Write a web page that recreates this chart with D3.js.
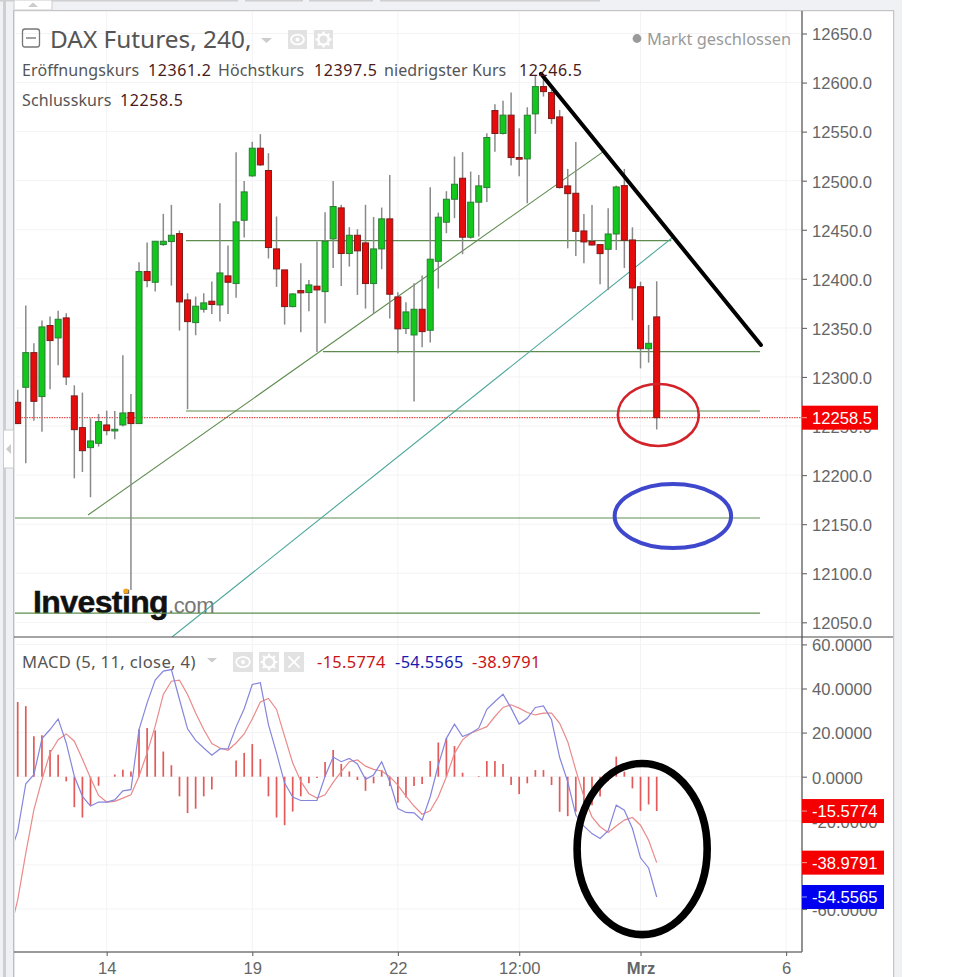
<!DOCTYPE html>
<html lang="de">
<head>
<meta charset="utf-8">
<title>DAX Futures, 240</title>
<script src="https://cdn.jsdelivr.net/npm/d3@7/dist/d3.min.js"></script>
<style>
html,body{margin:0;padding:0;background:#fff;}
svg{display:block;}
</style>
</head>
<body>
<div id="chart"></div>
<script>
const candleOpen=[12274.2,12289.5,12324.8,12280,12352.4,12339.8,12360.2,12280.7,12248.4,12228,12232.4,12251.1,12245,12251.1,12263.7,12252.5,12407.4,12396.5,12434.9,12438,12446.1,12378.5,12355.4,12369,12377.2,12373.4,12403,12395.2,12459.7,12504.9,12533.1,12510.4,12430.5,12409.1,12371.7,12388,12386,12392.5,12387,12440.7,12472.3,12425.8,12444.4,12436.6,12395.2,12430.5,12461.1,12381.6,12349.3,12342.8,12369,12347.6,12417.9,12457.7,12481.1,12502.5,12442.4,12478.1,12493,12571.5,12548.1,12566.8,12523.6,12522.2,12568.1,12595.9,12589.8,12565,12494.7,12487.2,12448.8,12438.2,12434.9,12430.1,12445.7,12495,12439.6,12392,12328.8,12361.2];
const candleHigh=[12287,12372.7,12334.4,12357.5,12361.5,12367.6,12364.9,12291.5,12284.1,12257.9,12262.3,12265.7,12265.4,12322.1,12282.7,12416.9,12437,12438.3,12466.2,12475.4,12449.2,12385.3,12381.9,12385.3,12397.2,12477.1,12433.9,12529.1,12499.8,12539.6,12547.4,12528,12463.5,12409.1,12385.3,12415.9,12398.9,12438,12467.9,12499.8,12475.4,12452.6,12450.6,12475.4,12463.1,12472.6,12505.9,12386.3,12376.1,12395.5,12403.3,12493.4,12467.5,12489.3,12524.6,12529.1,12509.3,12505.9,12548.4,12578,12581.4,12590,12553.5,12574.8,12607.8,12607.8,12592.5,12572.1,12512,12539.5,12466.1,12475.3,12434.9,12471.9,12495,12512,12452.5,12397.1,12353,12397.5];
const candleLow=[12252,12212,12255.5,12244.3,12287.4,12311.9,12291.9,12196.7,12203.2,12177.4,12229,12240.6,12236.5,12249.4,12083,12252,12391.4,12387,12433.6,12393.1,12347.3,12267.1,12342.5,12365.6,12364.2,12356.4,12364.2,12380.6,12442.1,12504,12515,12420.7,12391.8,12353.4,12371,12345.6,12367,12325.5,12354.7,12411.1,12392.8,12412.5,12383.6,12369.7,12364.2,12409.8,12359.5,12324.2,12343.9,12274.9,12330.3,12335,12390.1,12446.5,12461.8,12425.1,12441,12443.1,12478.4,12529.4,12547,12515.5,12504.6,12477,12547.7,12585.7,12557.9,12492,12431.1,12423.3,12415.8,12434,12394.4,12388.6,12429.4,12411.1,12357.7,12308.8,12314.6,12246.5];
const candleClose=[12252.5,12324.8,12275.2,12351,12337.1,12358.8,12300,12246.3,12224.9,12234.8,12254.5,12245.3,12246.7,12263.3,12252.5,12407.4,12398.2,12438.3,12438.3,12444.4,12376.5,12356.4,12372.1,12375.5,12373.8,12406,12396.5,12458,12488.6,12533.1,12516.1,12431.9,12410.1,12371.7,12384.6,12385.7,12393.8,12388.7,12438.3,12473.7,12425.8,12444.4,12428.5,12395.2,12430.5,12461.1,12384.3,12349,12366.3,12369,12346.2,12420,12462.8,12481.1,12496.4,12442.4,12478.1,12494.7,12544,12548.1,12566.8,12523.6,12521.9,12566.7,12595.9,12590.8,12563.3,12493,12486.8,12448.4,12437.6,12434.5,12425.7,12445.7,12493.6,12439.3,12390.7,12328.8,12334.3,12258.5];

// MACD lines start one bar before the first visible candle (index -1)
const macdLine=[-35.5,-24.8,-3.2,0.9,17.3,21.4,26.2,15.3,0.2,-8.9,-13.3,-11.5,-11.5,-10.5,-6.4,-5.9,21.4,33.5,43.8,47.9,48.6,35,21.7,16.5,13,9.7,12.6,12.7,22.6,30.8,41.8,42.6,23.6,10.8,-2.9,-9.2,-10.8,-10.8,-10.8,0.2,8.9,6.8,8.3,5.8,-1.2,0.8,6.8,-2.3,-14.4,-16.2,-16.4,-19.7,-9.1,5.3,17.4,23.8,18.2,19.7,22,30.6,34.1,37.4,31.1,23.9,26.5,31.4,32.1,25.8,8.8,-2.3,-17.4,-22.4,-25.8,-28,-24.5,-12.9,-15.2,-23.5,-36.8,-41.4,-54.5565];
const signalLine=[-71,-55.9,-34.7,-15,-1.4,10.8,16.8,19.4,16.1,8,-0.6,-8.5,-11.5,-11.2,-9.7,-8.2,0.2,10.8,22.9,37.3,43.3,43.8,37.3,28.9,21.4,15,13,12,15.3,19.4,26.2,33.9,35.5,30.5,18.3,6.2,-2.1,-7.7,-9.7,-8.2,-2.6,2.3,6.8,7.6,4.8,3.3,2.6,0,-3.8,-8.8,-13.3,-17,-15.5,-9.1,0,10.6,16.7,19.7,21.2,22.7,27.3,31.4,32.6,31.1,29.1,28,28.8,28.8,24.2,15.9,3,-9.1,-18.2,-22.7,-25.3,-22.4,-19.7,-18.5,-22,-28.8,-38.9791];
const histogram=[33.9,32,18.3,18.8,12.1,10,-2.1,-13.8,-18.5,-13,-4.1,0,1,3.2,2.4,21.4,22.1,21,11.4,5.2,-8.9,-16.5,-14.5,-8.9,-5.8,0,0,7.3,10.8,14.8,8,-8.9,-18.5,-22,-15.8,-8.9,-3,-0.6,6.7,12.1,5.8,2.4,-1.5,-6.4,-3,3,-4.2,-11.8,-9.4,-4.2,-3.3,7.1,15.5,17.4,13.9,1.8,0,0.3,7.1,7.1,5.8,-3.8,-7.9,-3,3,3,-3.8,-15.9,-17.9,-15.9,-14.4,-13,-9,-2,9.1,2.3,-5.3,-15.5,-12.6,-15.5774];

const priceTicks=[12050,12100,12150,12200,12250,12300,12350,12400,12450,12500,12550,12600,12650];
const macdTicks=[-60,-40,-20,0,20,40,60];
const timeTickIndex=[11,29,47,62,77,95];
const timeTickLabels=["14","19","22","12:00","Mrz","6"];

// drawn trend lines: [bar index, price, bar index, price]
const greenTrends=[[8.69,12159.3,72.36,12529.4],[20.8,12438.9,80.8,12438.9],[37.74,12325.8,91.77,12325.8],[20.8,12265.3,91.77,12265.3],[-0.4,12156.3,91.77,12156.3],[-0.4,12059.4,91.77,12059.4]];
const tealTrends=[[19.08,12035,80.9,12441.7]];
const blackTrend=[64.69,12608.9,91.89,12332.6];
// hand-drawn ellipses: [bar index, value, radius in bars, radius in value]
const redEllipse=[79.2,12261.3,5,31.6];
const blueEllipse=[81,12158.3,7.2,32.6];
const blackEllipse=[77.2,-32.8,8.04,38.8];

const legendRow1=[["Eröffnungskurs","12361.2"],["Höchstkurs","12397.5"],["niedrigster Kurs","12246.5"]];
const legendRow2=[["Schlusskurs","12258.5"]];
const macdValues=["-15.5774","-54.5565","-38.9791"];
const lastPrice=12258.5;
const macdTags=[[-15.5774,"#f40000"],[-38.9791,"#f40000"],[-54.5565,"#0000f0"]];

const W=962,H=977;
const plotL=14,plotR=802,frameR=893;
const topT=11,topB=637,botB=952;
const sans='"Liberation Sans",Arial,sans-serif';
const ui='"Noto Sans",sans-serif';

const svg=d3.select("#chart").append("svg").attr("width",W).attr("height",H).attr("viewBox",`0 0 ${W} ${H}`);
const x=d3.scaleLinear().domain([0,79]).range([17.7,656.7]);
const y=d3.scaleLinear().domain([12050,12650]).range([622.3,33.5]);
const ym=d3.scaleLinear().domain([-60,60]).range([909,644.4]);

// chrome
svg.append("rect").attr("width",902).attr("height",H).attr("fill","#f0f1f5");
svg.append("rect").attr("x",3).attr("y",0).attr("width",3).attr("height",H).attr("fill","#cfcfd2");
svg.append("rect").attr("x",plotL).attr("y",topT).attr("width",frameR-plotL).attr("height",H-topT).attr("fill","#fff");
svg.append("rect").attr("x",13).attr("y",10).attr("width",1.4).attr("height",H-10).attr("fill","#bdbdbd");
svg.append("rect").attr("x",13).attr("y",10).attr("width",frameR-13).attr("height",1.2).attr("fill","#c4c4c4");
svg.append("rect").attr("x",frameR).attr("y",10).attr("width",1.2).attr("height",H-10).attr("fill","#c4c4c4");
[[0,238],[245,303],[309,373],[380,600]].forEach(s=>svg.append("rect").attr("x",s[0]).attr("y",0).attr("width",s[1]-s[0]).attr("height",1.5).attr("fill","#cfcfd2"));
svg.append("rect").attr("x",14).attr("y",0).attr("width",38).attr("height",10).attr("fill","#fff").attr("stroke","#ccc");
svg.append("path").attr("d","M28 7 L33 2.5 L38 7 Z").attr("fill","#ccc");
svg.append("rect").attr("x",3.5).attr("y",430).attr("width",10).attr("height",38).attr("fill","#fff").attr("stroke","#ccc");
svg.append("path").attr("d","M6 449 L11 444 L11 454 Z").attr("fill","#ccc");

const defs=svg.append("defs");
defs.append("clipPath").attr("id","clipTop").append("rect").attr("x",plotL+1).attr("y",topT).attr("width",plotR-plotL+1).attr("height",topB-topT);
defs.append("clipPath").attr("id","clipBot").append("rect").attr("x",plotL+1).attr("y",topB).attr("width",plotR-plotL+1).attr("height",botB-topB);

// grid
const grid=svg.append("g").attr("stroke","#f3f3f5").attr("stroke-width",1);
grid.selectAll("line.v").data(timeTickIndex).join("line").attr("class","v")
  .attr("x1",d=>x(d)).attr("x2",d=>x(d)).attr("y1",topT).attr("y2",botB);
grid.selectAll("line.p").data(priceTicks).join("line").attr("class","p")
  .attr("x1",plotL).attr("x2",plotR).attr("y1",d=>y(d)).attr("y2",d=>y(d));
grid.selectAll("line.m").data(macdTicks).join("line").attr("class","m")
  .attr("x1",plotL).attr("x2",plotR).attr("y1",d=>ym(d)).attr("y2",d=>ym(d));

const topPanel=svg.append("g").attr("clip-path","url(#clipTop)");

// Investing logo
const logo=topPanel.append("g");
logo.append("text").attr("x",33).attr("y",613).attr("font-family",sans).attr("font-weight",700).attr("font-size",32).attr("letter-spacing",-0.6).attr("fill","#111").attr("stroke","#111").attr("stroke-width",0.5).text("Investing");
logo.append("text").attr("x",168).attr("y",613).attr("font-family",sans).attr("font-size",22).attr("letter-spacing",-0.4).attr("fill","#777").text(".com");
logo.append("circle").attr("cx",126).attr("cy",591).attr("r",2.6).attr("fill","#f5a31c");

// trend lines
const tl=(g,data,color,w)=>g.selectAll(null).data(data).join("line")
  .attr("x1",d=>x(d[0])).attr("y1",d=>y(d[1])).attr("x2",d=>x(d[2])).attr("y2",d=>y(d[3]))
  .attr("stroke",color).attr("stroke-width",w);
tl(topPanel,greenTrends,"#5e8c50",1.1);
tl(topPanel,tealTrends,"#4aa69c",1.1);

// last price dotted line
topPanel.append("line").attr("x1",plotL).attr("x2",plotR).attr("y1",y(lastPrice)).attr("y2",y(lastPrice))
  .attr("stroke","#e22a2a").attr("stroke-width",1).attr("stroke-dasharray","1.5,1");

// candles
const idx=d3.range(candleOpen.length);
topPanel.selectAll("line.wick").data(idx).join("line").attr("class","wick")
  .attr("x1",i=>x(i)).attr("x2",i=>x(i)).attr("y1",i=>y(candleHigh[i])).attr("y2",i=>y(candleLow[i]))
  .attr("stroke","#8a8a8a").attr("stroke-width",1.5);
topPanel.selectAll("rect.body").data(idx).join("rect").attr("class","body")
  .attr("x",i=>x(i)-3).attr("width",6)
  .attr("y",i=>y(Math.max(candleOpen[i],candleClose[i])))
  .attr("height",i=>Math.max(1,Math.abs(y(candleOpen[i])-y(candleClose[i]))))
  .attr("fill",i=>candleClose[i]>=candleOpen[i]?"#12c81c":"#e60c0c")
  .attr("stroke",i=>candleClose[i]>=candleOpen[i]?"#2a7d34":"#7c1a1a").attr("stroke-width",1);

// annotations
tl(topPanel,[blackTrend],"#000",4).attr("stroke-linecap","round");
const ell=(g,e,sc,color,w)=>g.append("ellipse")
  .attr("cx",x(e[0])).attr("cy",sc(e[1]))
  .attr("rx",x(e[2])-x(0)).attr("ry",Math.abs(sc(e[3])-sc(0)))
  .attr("fill","none").attr("stroke",color).attr("stroke-width",w);
ell(topPanel,redEllipse,y,"#d2232a",2.6);
ell(topPanel,blueEllipse,y,"#3f48cc",4);

// MACD panel
const bot=svg.append("g").attr("clip-path","url(#clipBot)");
bot.selectAll("line.h").data(idx).join("line").attr("class","h")
  .attr("x1",i=>x(i)).attr("x2",i=>x(i)).attr("y1",ym(0)).attr("y2",i=>ym(histogram[i]))
  .attr("stroke","#e25a5a").attr("stroke-width",1.7);
const lineGen=d3.line().x((d,i)=>x(i-1)).y(d=>ym(d));
bot.append("path").attr("d",lineGen(signalLine)).attr("fill","none").attr("stroke","#ea8a8a").attr("stroke-width",1.2);
bot.append("path").attr("d",lineGen(macdLine)).attr("fill","none").attr("stroke","#8585de").attr("stroke-width",1.2);

// axes
svg.append("line").attr("x1",plotR).attr("x2",plotR).attr("y1",topT).attr("y2",botB).attr("stroke","#777").attr("stroke-width",1.6);
svg.append("line").attr("x1",plotL).attr("x2",plotR).attr("y1",botB).attr("y2",botB).attr("stroke","#777").attr("stroke-width",1.6);
svg.append("line").attr("x1",plotL).attr("x2",frameR).attr("y1",topB).attr("y2",topB).attr("stroke","#4a4a4a").attr("stroke-width",1.1);

function styleAxis(g){
  g.select(".domain").remove();
  g.selectAll(".tick line").attr("stroke","#666").attr("stroke-width",1.1);
  g.selectAll(".tick text").attr("font-family",sans).attr("font-size",16.6).attr("fill","#666");
}
const pAxis=svg.append("g").attr("transform",`translate(${plotR},0)`)
  .call(d3.axisRight(y).tickValues(priceTicks).tickFormat(d=>d.toFixed(1)).tickSize(5).tickPadding(5)).call(styleAxis);
pAxis.selectAll(".tick text").attr("dy","0.38em");
const mAxis=svg.append("g").attr("transform",`translate(${plotR},0)`)
  .call(d3.axisRight(ym).tickValues(macdTicks).tickFormat(d=>d.toFixed(4)).tickSize(5).tickPadding(5)).call(styleAxis);
mAxis.selectAll(".tick text").attr("dy","0.38em");
const tAxis=svg.append("g").attr("transform",`translate(0,${botB})`)
  .call(d3.axisBottom(x).tickValues(timeTickIndex).tickFormat((d,i)=>timeTickLabels[i]).tickSize(4).tickPadding(6)).call(styleAxis);
tAxis.selectAll(".tick text").attr("font-weight",(d,i)=>timeTickLabels[i]==="Mrz"?700:400);

// value tags
function tag(v,sc,label,color,w){
  const g=svg.append("g").attr("transform",`translate(${plotR},${sc(v)})`);
  g.append("rect").attr("x",0).attr("y",-12).attr("width",w).attr("height",24).attr("fill",color);
  g.append("line").attr("x1",0).attr("x2",5).attr("stroke","#fff").attr("stroke-opacity",.6);
  g.append("text").attr("x",10).attr("y",6).attr("font-family",sans).attr("font-size",16.6).attr("fill","#fff").text(label);
}
tag(lastPrice,y,lastPrice.toFixed(1),"#f40000",76);
macdTags.forEach(t=>tag(t[0],ym,t[0].toFixed(4),t[1],82));

// black MACD ellipse sits on top of the panel
ell(svg,blackEllipse,ym,"#000",7.6);

// header
const hdr=svg.append("g");
hdr.append("rect").attr("x",22.5).attr("y",29).attr("width",17).attr("height",18).attr("rx",2.5).attr("fill","none").attr("stroke","#777").attr("stroke-width",1.3);
hdr.append("line").attr("x1",26).attr("x2",36).attr("y1",38).attr("y2",38).attr("stroke","#777").attr("stroke-width",1.4);
hdr.append("text").attr("x",50).attr("y",48).attr("font-family",ui).attr("font-size",24.4).attr("fill","#555").text("DAX Futures, 240,");
hdr.append("path").attr("d","M261 38 L272 38 L266.5 43 Z").attr("fill","#ccc");

function iconBox(g,bx,by,s,kind){
  g.append("rect").attr("x",bx).attr("y",by).attr("width",s).attr("height",s).attr("fill","#e2e2e2");
  const cx=bx+s/2,cy=by+s/2;
  if(kind==="eye"){
    g.append("ellipse").attr("cx",cx).attr("cy",cy).attr("rx",s*.34).attr("ry",s*.26).attr("fill","none").attr("stroke","#fff").attr("stroke-width",1.8);
    g.append("circle").attr("cx",cx).attr("cy",cy).attr("r",s*.1).attr("fill","#fff");
  }else if(kind==="gear"){
    g.append("circle").attr("cx",cx).attr("cy",cy).attr("r",s*.27).attr("fill","none").attr("stroke","#fff").attr("stroke-width",2.4);
    d3.range(8).forEach(k=>{const a=k*Math.PI/4;
      g.append("line").attr("x1",cx+Math.cos(a)*s*.26).attr("y1",cy+Math.sin(a)*s*.26).attr("x2",cx+Math.cos(a)*s*.42).attr("y2",cy+Math.sin(a)*s*.42).attr("stroke","#fff").attr("stroke-width",2.2);});
  }else{
    g.append("path").attr("d",`M${bx+s*.22} ${by+s*.22} L${bx+s*.78} ${by+s*.78} M${bx+s*.78} ${by+s*.22} L${bx+s*.22} ${by+s*.78}`).attr("stroke","#fff").attr("stroke-width",1.8);
  }
}
iconBox(hdr,288,30,19,"eye");
iconBox(hdr,314,30,19,"gear");

const legLabel="#555",legVal="#4a1a1a";
function legendRow(row,baseline,xs){
  row.forEach((p,k)=>{
    hdr.append("text").attr("x",xs[k][0]).attr("y",baseline).attr("font-family",ui).attr("font-size",16).attr("letter-spacing",0.1).attr("fill",legLabel).text(p[0]);
    hdr.append("text").attr("x",xs[k][1]).attr("y",baseline).attr("font-family",ui).attr("font-size",16).attr("letter-spacing",0.6).attr("fill",legVal).text(p[1]);
  });
}
legendRow(legendRow1,76,[[22,148],[218,314],[384,519]]);
legendRow(legendRow2,106,[[22,120]]);

hdr.append("circle").attr("cx",637).attr("cy",38.5).attr("r",4.4).attr("fill","#9a9a9a");
hdr.append("text").attr("x",647).attr("y",45).attr("font-family",ui).attr("font-size",16.4).attr("fill","#9a9a9a").text("Markt geschlossen");

// MACD legend
hdr.append("text").attr("x",22).attr("y",668).attr("font-family",ui).attr("font-size",16.6).attr("letter-spacing",0.35).attr("fill","#555").text("MACD (5, 11, close, 4)");
hdr.append("path").attr("d","M207 658 L217 658 L212 662.5 Z").attr("fill","#ccc");
iconBox(hdr,233,652,20,"eye");
iconBox(hdr,259,652,20,"gear");
iconBox(hdr,284,652,20,"x");
const mvColors=["#c81414","#1a1ab0","#c81414"],mvX=[317,395,472];
macdValues.forEach((t,k)=>hdr.append("text").attr("x",mvX[k]).attr("y",668).attr("font-family",ui).attr("font-size",16.4).attr("letter-spacing",0.35).attr("fill",mvColors[k]).text(t));
</script>
</body>
</html>
